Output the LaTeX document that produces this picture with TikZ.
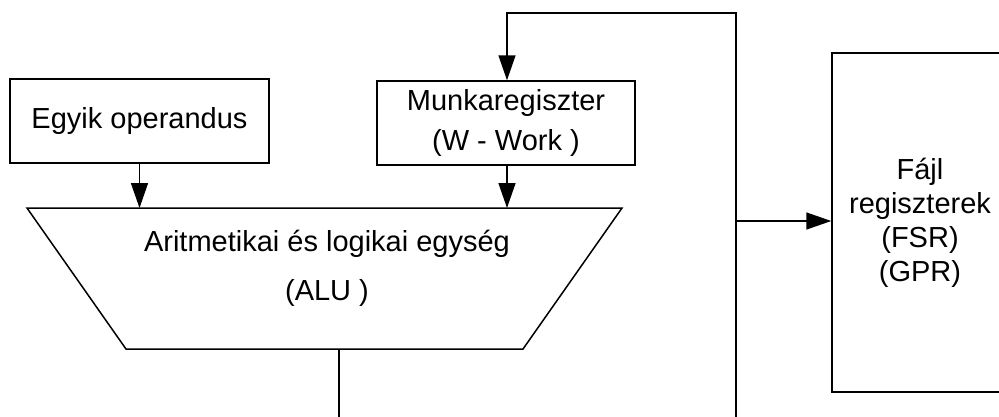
\documentclass[tikz,border=0pt]{standalone}
\usepackage{fontspec}
\setmainfont{Liberation Sans}
\usetikzlibrary{arrows.meta}
\tikzset{
  box/.style={draw, line width=1.5pt, align=center, inner sep=0pt},
  conn/.style={draw, line width=1.5pt},
  arr/.style={conn, -{Triangle[length=25pt,width=17pt]}},
  txt/.style={font=\fontsize{29}{38}\selectfont}
}
\begin{document}
\begin{tikzpicture}[x=1pt,y=-1pt]
\clip (0,0) rectangle (999,416);
\fill[white] (0,0) rectangle (999,416);
% boxes
\node[box, txt, minimum width=259pt, minimum height=84pt] (egyik) at (139.5,121) {Egyik operandus};
\node[box, font=\fontsize{29}{40}\selectfont, minimum width=258pt, minimum height=84pt] (munka) at (506,123) {Munkaregiszter\\(W - Work )};
\node[box, font=\fontsize{29}{34}\selectfont, minimum width=176pt, minimum height=339pt] (fajl) at (920,222.5) {Fájl\\regiszterek\\(FSR)\\(GPR)};
% ALU trapezoid
\coordinate (aluTL) at (27,208);
\coordinate (aluTR) at (622,208);
\coordinate (aluBR) at (523,349);
\coordinate (aluBL) at (126,349);
\draw[line width=1.5pt] (aluTL) -- (aluTR) -- (aluBR) -- (aluBL) -- cycle;
\node[align=center, font=\fontsize{29}{49}\selectfont] (alu) at (327,268) {Aritmetikai és logikai egység\\(ALU )};
\coordinate (aluout) at (339,349);
% free ends at bottom
\coordinate (b1) at (339,420);
\coordinate (b2) at (736,420);
\coordinate (t1) at (736,13);
\coordinate (t0) at (507,13);
\coordinate (j) at (736,221);
% connectors
\draw[arr] (egyik.south) -- (egyik.south |- aluTL);
\draw[arr] (munka.south -| t0) -- (t0 |- aluTL);
\draw[conn] (aluout) -- (b1);
\draw[arr] (b2) -- (t1) -- (t0) -- (munka.north -| t0);
\draw[arr] (j) -- (fajl.west |- j);
\end{tikzpicture}
\end{document}
